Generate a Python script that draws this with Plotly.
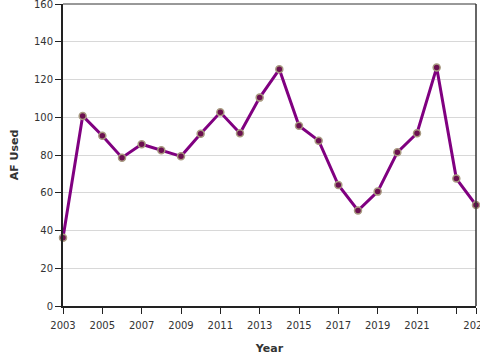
import plotly.graph_objects as go

years = list(range(2003, 2025))
af_used = [36.2, 100.7, 90.2, 78.6, 85.7, 82.5, 79.3, 91.3, 102.6, 91.5, 110.4, 125.4,
           95.5, 87.6, 64.1, 50.6, 60.6, 81.4, 91.5, 126.3, 67.5, 53.5]
x_tickvals = [2003, 2005, 2007, 2009, 2011, 2013, 2015, 2017, 2019, 2021, 2023, 2024]
x_ticktext = ["2003", "2005", "2007", "2009", "2011", "2013", "2015", "2017", "2019", "2021", "", "2024"]
y_tickvals = [0, 20, 40, 60, 80, 100, 120, 140, 160]

fig = go.Figure()
fig.add_trace(go.Scatter(
    x=years, y=af_used, mode="lines+markers",
    line=dict(color="#800080", width=3),
    marker=dict(size=7, color="#6b1050", line=dict(color="#a89a80", width=1.5)),
    cliponaxis=False,
))

fig.update_layout(
    width=480, height=360,
    margin=dict(l=63, r=4, t=4, b=54),
    paper_bgcolor="white", plot_bgcolor="white",
    font=dict(family="DejaVu Sans", size=10, color="#333"),
    showlegend=False,
    shapes=[
        dict(type="line", xref="paper", yref="paper", x0=0, x1=1, y0=1, y1=1,
             line=dict(color="#333", width=1)),
        dict(type="line", xref="paper", yref="paper", x0=1, x1=1, y0=0, y1=1,
             line=dict(color="#333", width=1.5)),
    ],
)
fig.update_xaxes(
    range=[2003, 2024], tickvals=x_tickvals, ticktext=x_ticktext,
    ticks="outside", ticklen=6, tickcolor="#222", tickwidth=1,
    showline=True, linecolor="#222", linewidth=2,
    showgrid=False, zeroline=False, automargin=False, ticklabeloverflow="allow",
    ticklabelstandoff=3,
    title=dict(text="<b>Year</b>", font=dict(size=11, color="#333"), standoff=14),
)
fig.update_yaxes(
    range=[0, 160], tickvals=y_tickvals,
    ticks="outside", ticklen=6, tickcolor="#222", tickwidth=1,
    showline=True, linecolor="#222", linewidth=2,
    showgrid=True, gridcolor="#d8d8d8", gridwidth=1, zeroline=False, automargin=False,
    ticklabeloverflow="allow",
    title=dict(text="<b>AF Used</b>", font=dict(size=11, color="#333"), standoff=13),
)

fig.write_html("out.html", config={"displayModeBar": False},
               post_script="document.body.style.margin='0';")
